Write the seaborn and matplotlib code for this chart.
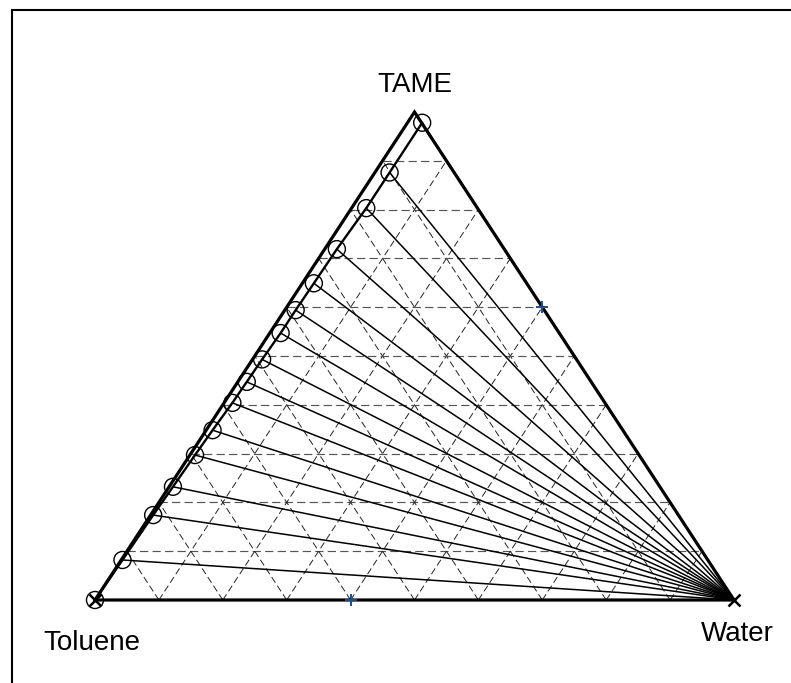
import numpy as np
import pandas as pd
import matplotlib
matplotlib.use("Agg")
import matplotlib.pyplot as plt
from matplotlib.patches import Rectangle
import seaborn as sns

# Organic-phase (binodal) compositions, mass fractions
org_tame = [0.978, 0.876, 0.803, 0.719, 0.649, 0.594, 0.547, 0.493,
            0.447, 0.404, 0.348, 0.297, 0.232, 0.174, 0.082, 0.000]
org_water = [0.023, 0.023, 0.023, 0.019, 0.018, 0.017, 0.017, 0.015,
             0.014, 0.013, 0.010, 0.008, 0.006, 0.004, 0.002, 0.000]
org_toluene = [0.000, 0.101, 0.174, 0.262, 0.333, 0.389, 0.436, 0.492,
               0.539, 0.583, 0.642, 0.695, 0.762, 0.822, 0.916, 1.000]

# Aqueous-phase compositions (pure water end of every tie line)
aq_tame = [0.0] * len(org_tame)
aq_water = [1.0] * len(org_tame)

# Feed / mixing points
feed_tame = [0.6, 0.0]
feed_water = [0.4, 0.4]

components = ["Toluene", "TAME", "Water"]


def to_xy(tame, water):
    tame = np.asarray(tame, dtype=float)
    water = np.asarray(water, dtype=float)
    return water + 0.5 * tame, tame


sns.set_theme(style="white")
plt.rcParams["font.family"] = ["Liberation Sans", "DejaVu Sans"]
plt.rcParams["text.color"] = "black"

W, H = 791, 683
fig = plt.figure(figsize=(W / 100, H / 100), dpi=100)
ax = fig.add_axes([95 / W, (H - 600) / H, (734 - 95) / W, (600 - 112) / H])
ax.set_xlim(0, 1)
ax.set_ylim(0, 1)
ax.axis("off")

# Dashed 10 % grid
dash = (0, (7, 3.6))
for k in range(1, 10):
    f = k / 10
    # constant TAME
    x, y = to_xy([f, f], [0, 1 - f])
    ax.plot(x, y, color="#555555", lw=0.85, ls=dash, zorder=1)
    # constant Water
    x, y = to_xy([0, 1 - f], [f, f])
    ax.plot(x, y, color="#222222", lw=0.7, ls=dash, zorder=1)
    # constant Toluene
    x, y = to_xy([0, 1 - f], [1 - f, 0])
    ax.plot(x, y, color="#222222", lw=0.7, ls=dash, zorder=1)

# Tie lines
ox, oy = to_xy(org_tame, org_water)
ax_, ay_ = to_xy(aq_tame, aq_water)
rows = []
for i in range(len(org_tame)):
    rows.append({"tie": i, "x": ox[i], "y": oy[i]})
    rows.append({"tie": i, "x": ax_[i], "y": ay_[i]})
ties = pd.DataFrame(rows)
sns.lineplot(data=ties, x="x", y="y", units="tie", estimator=None, sort=False,
             color="black", lw=1.1, ax=ax, zorder=2, legend=False)

# Triangle outline
vx, vy = to_xy([0, 0, 1, 0], [0, 1, 0, 0])
ax.plot(vx, vy, color="black", lw=2.3, solid_joinstyle="miter", zorder=3,
        clip_on=False)

# Binodal curve with measured points
binodal = pd.DataFrame({"x": ox, "y": oy})
sns.lineplot(data=binodal, x="x", y="y", sort=False, color="black", lw=1.7,
             ax=ax, zorder=4)
sns.scatterplot(data=binodal, x="x", y="y", marker="o", s=150,
                facecolors="none", edgecolor="black", linewidth=1.0,
                ax=ax, zorder=5, clip_on=False)

# End markers at the pure-component corners
ex, ey = to_xy([0, 0], [1, 0])
ax.plot(ex, ey, ls="none", marker="x", ms=9, mew=1.8, color="black",
        zorder=6, clip_on=False)

# Feed points
fx, fy = to_xy(feed_tame, feed_water)
ax.plot(fx, fy, ls="none", marker="+", ms=8, mew=1.4, color="#1f4e8c",
        zorder=6, clip_on=False)

ax.set_xlabel("")
ax.set_ylabel("")

# Corner labels
label_kw = dict(ha="center", va="baseline", fontsize=20, color="black")
fig.text(92 / W, (H - 650) / H, components[0], **label_kw)
fig.text(415 / W, (H - 92) / H, components[1], **label_kw)
fig.text(737 / W, (H - 641) / H, components[2], **label_kw)

# Outer frame
fig.add_artist(Rectangle((11.7 / W, -0.2), 1.2, (H - 10) / H + 0.2,
                         transform=fig.transFigure, fill=False,
                         lw=1.5, ec="black"))

fig.savefig("out.png", dpi=100)
